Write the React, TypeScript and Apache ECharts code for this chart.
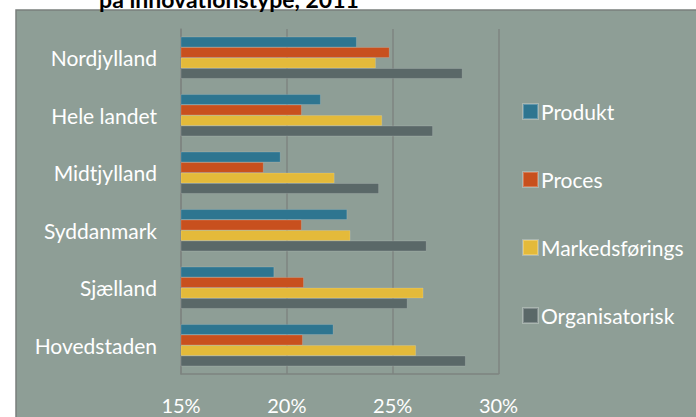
import React, { useEffect, useRef } from "react";
import * as echarts from "echarts";

const categories = ["Hovedstaden", "Sjælland", "Syddanmark", "Midtjylland", "Hele landet", "Nordjylland"];
const seriesNames = ["Produkt", "Proces", "Markedsførings", "Organisatorisk"];
const produkt = [22.2, 19.4, 22.85, 19.7, 21.6, 23.3];
const proces = [20.75, 20.8, 20.7, 18.9, 20.7, 24.85];
const markedsforings = [26.1, 26.45, 23.0, 22.25, 24.5, 24.2];
const organisatorisk = [28.45, 25.7, 26.6, 24.35, 26.9, 28.3];
const colors = ["#2E7590", "#C8501E", "#E4BA3A", "#5A6868"];
const titleText = "på innovationstype, 2011";

export default function App() {
  const ref = useRef<HTMLDivElement>(null);
  useEffect(() => {
    document.body.style.margin = "0";
    const chart = echarts.init(ref.current!, null, { renderer: "svg" });
    const values = [produkt, proces, markedsforings, organisatorisk];
    const series = seriesNames.map((name, i) => ({
      name,
      type: "bar",
      data: values[i],
      barGap: "0%",
      barCategoryGap: "27%",
      itemStyle: { color: colors[i], borderColor: "rgba(255,255,255,0.25)", borderWidth: 0.6 },
    }));
    chart.setOption({
      animation: false,
      backgroundColor: "#ffffff",
      graphic: [
        {
          type: "rect",
          shape: { x: 16, y: 10, width: 700, height: 420 },
          style: { fill: "#8E9E96", stroke: "#7A7F7C", lineWidth: 1.5 },
          z: -10,
        },
        {
          type: "text",
          x: 229,
          y: 10,
          style: {
            text: titleText,
            fill: "#000000",
            font: "bold 23px Lato",
            align: "center",
            verticalAlign: "bottom",
          },
        },
      ],
      legend: {
        orient: "vertical",
        left: 522,
        top: 101,
        padding: 0,
        itemWidth: 15,
        itemHeight: 15,
        itemGap: 47,
        icon: "rect",
        data: seriesNames,
        textStyle: { color: "#ffffff", fontSize: 21, fontFamily: "Lato", padding: [0, 0, 0, -2] },
      },
      grid: { left: 181, right: 197.5, top: 29, bottom: 43 },
      xAxis: {
        type: "value",
        min: 15,
        max: 30,
        interval: 5,
        axisLabel: {
          formatter: "{value}%",
          color: "#ffffff",
          fontSize: 20,
          lineHeight: 16,
          fontFamily: "Lato",
          margin: 23,
        },
        axisLine: { show: true, lineStyle: { color: "#7E8480", width: 1.5 } },
        axisTick: { show: false },
        splitLine: { show: true, lineStyle: { color: "#7E8480", width: 1.5 } },
      },
      yAxis: {
        type: "category",
        data: categories,
        axisLabel: { color: "#ffffff", fontSize: 21, fontFamily: "Lato", margin: 24 },
        axisLine: { show: true, lineStyle: { color: "#7E8480", width: 1.5 } },
        axisTick: { show: false },
      },
      series,
    });
    return () => chart.dispose();
  }, []);
  return <div ref={ref} style={{ width: 696, height: 417 }} />;
}
